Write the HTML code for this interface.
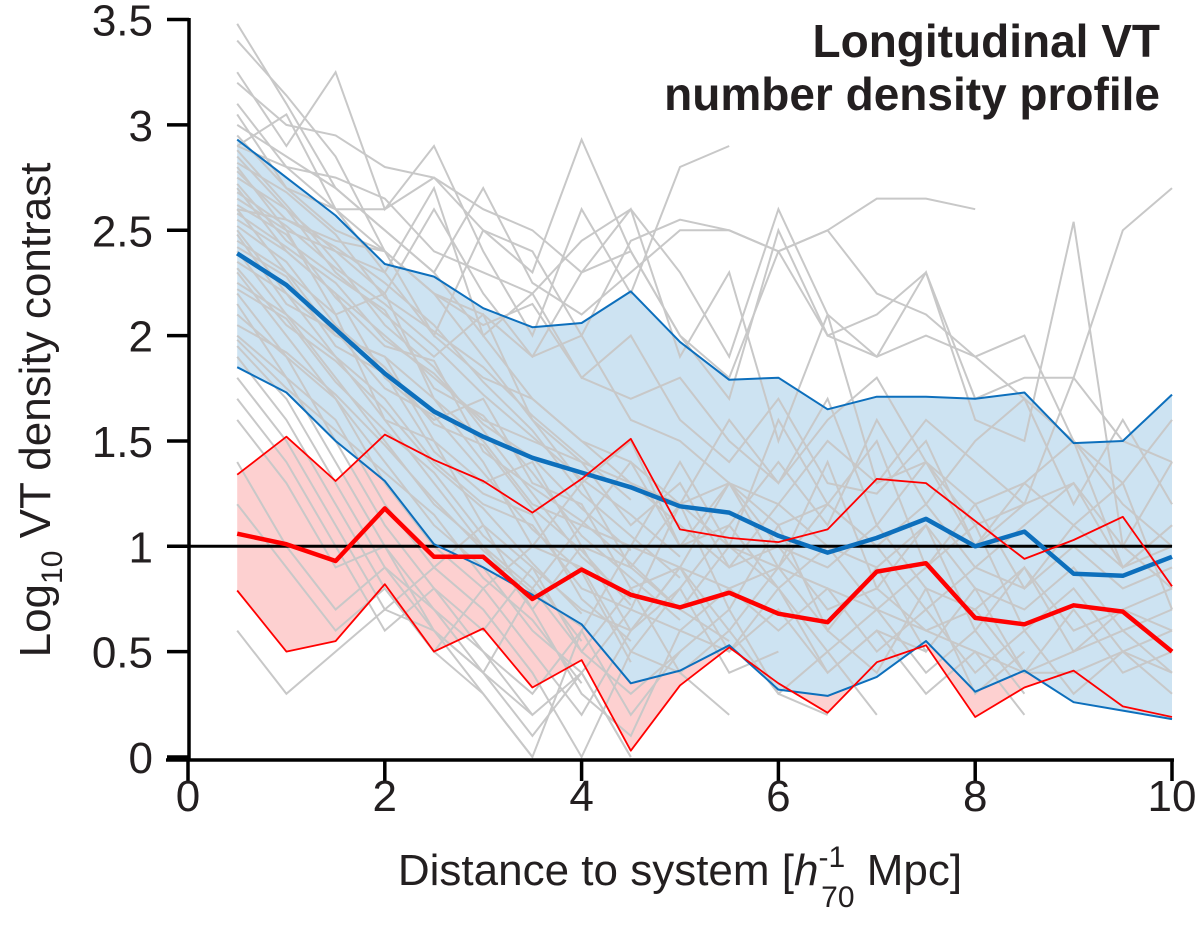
<!DOCTYPE html>
<html><head><meta charset="utf-8"><style>
body{margin:0;background:#fff;}
svg text{font-family:"Liberation Sans",Arial,sans-serif;}
</style></head><body>
<svg id="chart" width="1200" height="924" viewBox="0 0 1200 924" xmlns="http://www.w3.org/2000/svg">
<g id="fills"></g><g id="grays"></g><g id="lines"></g><g id="axes"></g>
<text x="1160" y="57" text-anchor="end" font-size="46" font-weight="bold" fill="#231f20">Longitudinal VT</text>
<text x="1160" y="110" text-anchor="end" font-size="46" font-weight="bold" fill="#231f20">number density profile</text>
<text x="680" y="885" text-anchor="middle" font-size="44" fill="#231f20">Distance to system [<tspan font-style="italic">h</tspan><tspan font-size="30" dy="-18">-1</tspan><tspan font-size="30" dx="-24" dy="40">70</tspan><tspan dy="-22"> Mpc]</tspan></text>
<text transform="translate(50,410) rotate(-90)" text-anchor="middle" font-size="44" fill="#231f20">Log<tspan font-size="30" dy="12">10</tspan><tspan dy="-12"> VT density contrast</tspan></text>
</svg>
<script>
const xs=[0.5,1,1.5,2,2.5,3,3.5,4,4.5,5,5.5,6,6.5,7,7.5,8,8.5,9,9.5,10];
const blueMean=[2.39,2.24,2.03,1.82,1.64,1.52,1.42,1.35,1.28,1.19,1.16,1.05,0.97,1.04,1.13,1.00,1.07,0.87,0.86,0.95];
const blueUpper=[2.93,2.75,2.57,2.34,2.28,2.13,2.04,2.06,2.21,1.97,1.79,1.80,1.65,1.71,1.71,1.70,1.73,1.49,1.50,1.72];
const blueLower=[1.85,1.73,1.50,1.31,1.01,0.90,0.77,0.63,0.35,0.41,0.53,0.32,0.29,0.38,0.55,0.31,0.41,0.26,0.22,0.18];
const redMean=[1.06,1.01,0.93,1.18,0.95,0.95,0.75,0.89,0.77,0.71,0.78,0.68,0.64,0.88,0.92,0.66,0.63,0.72,0.69,0.50];
const redUpper=[1.34,1.52,1.31,1.53,1.41,1.31,1.16,1.32,1.51,1.08,1.04,1.02,1.08,1.32,1.30,1.12,0.94,1.03,1.14,0.81];
const redLower=[0.79,0.50,0.55,0.82,0.50,0.61,0.33,0.46,0.03,0.34,0.52,0.35,0.21,0.45,0.53,0.19,0.33,0.41,0.24,0.19];
const grayLines=[
[3.48,3.10,2.70,2.50,2.30,2.00,1.70,1.50,1.30,1.20,1.00,0.90,0.80,0.70,0.60,0.50,0.40,0.40,0.50,0.40],
[3.40,3.14,2.85,2.40,2.20,1.90,1.60,1.40,1.30,1.10,0.90,1.20,1.00,0.90,1.10,0.80,0.70,0.90,0.60,0.70],
[3.25,2.90,3.25,2.60,2.90,2.40,2.00,2.60,2.20,2.80,2.90,null,null,null,null,null,null,null,null,null],
[3.20,3.00,2.95,2.80,2.75,2.50,2.40,2.00,2.45,2.55,2.50,2.40,2.50,2.65,2.65,2.60,null,null,null,null],
[3.05,2.70,2.60,2.60,2.75,2.60,2.50,2.30,2.40,2.00,1.70,2.50,2.00,2.10,2.30,1.70,1.80,1.80,2.50,2.70],
[3.00,2.85,2.70,2.50,2.30,2.70,2.25,2.10,2.30,2.50,2.50,2.40,2.00,1.90,2.30,1.60,1.50,2.54,1.00,1.40],
[2.95,2.70,2.50,2.40,2.20,2.10,1.90,2.30,2.60,1.90,2.30,1.50,2.10,1.90,2.00,1.90,1.70,1.50,1.20,1.00],
[2.90,2.80,2.60,2.30,2.70,2.00,2.20,1.80,1.70,1.80,1.50,1.30,1.60,1.80,1.40,1.20,1.30,1.10,0.90,1.00],
[2.85,2.60,2.40,2.20,2.60,2.20,1.90,2.00,1.60,1.50,1.30,1.10,1.20,1.00,1.20,0.90,0.80,1.00,0.80,0.90],
[2.80,2.50,2.40,2.30,2.00,1.80,1.70,1.50,1.40,1.20,1.30,1.00,0.90,1.10,0.80,0.70,0.90,0.60,0.70,0.80],
[2.75,2.60,2.30,2.10,1.90,2.10,1.60,1.30,1.50,1.00,1.10,0.80,1.00,0.70,0.90,1.10,0.60,0.80,0.50,0.60],
[2.70,2.40,2.20,2.00,1.80,1.60,1.50,1.40,1.10,1.30,0.90,1.00,0.70,0.80,0.60,0.70,0.40,0.50,0.60,0.40],
[2.65,2.50,2.10,2.20,1.70,1.50,1.20,1.10,1.00,0.90,0.80,0.60,0.80,0.50,0.70,0.40,0.60,0.30,0.50,0.30],
[2.60,2.30,2.00,1.90,1.50,1.30,1.40,1.00,0.90,0.70,1.00,0.80,0.50,0.70,0.40,0.60,0.30,null,null,null],
[2.55,2.40,2.20,1.80,1.60,1.70,1.30,1.20,0.80,0.90,0.60,0.90,0.60,0.40,0.80,0.30,0.50,null,null,null],
[2.50,2.20,1.90,1.70,1.40,1.20,1.10,0.80,0.70,0.60,0.50,0.70,0.40,0.60,0.50,null,null,null,null,null],
[2.45,2.30,2.10,1.60,1.50,1.10,0.90,0.70,0.60,0.80,0.40,0.50,null,null,null,null,null,null,null,null],
[2.40,2.10,1.80,1.50,1.20,1.00,0.80,0.50,0.30,0.50,0.70,0.30,0.20,null,null,null,null,null,null,null],
[2.35,2.20,2.00,1.90,1.70,1.40,1.00,0.90,0.50,0.40,0.20,null,null,null,null,null,null,null,null,null],
[2.30,2.00,1.70,1.40,1.10,0.90,0.60,0.40,0.00,null,null,null,null,null,null,null,null,null,null,null],
[2.25,2.10,1.90,1.60,1.30,1.00,0.70,0.30,0.10,0.60,0.80,0.90,1.20,1.00,0.70,0.90,1.10,1.30,1.00,0.80],
[2.20,1.90,1.70,1.30,1.00,0.80,0.50,0.20,0.60,0.90,1.30,1.20,1.50,1.30,1.60,1.40,1.20,1.80,1.50,1.40],
[2.15,1.80,1.60,1.20,0.90,0.70,0.40,0.00,0.50,0.80,1.10,1.40,1.10,1.60,1.20,1.50,1.70,1.20,1.60,1.20],
[2.10,1.90,1.50,1.10,0.80,0.50,0.20,0.40,0.70,1.20,1.60,1.30,1.70,1.10,1.40,1.00,1.30,1.50,0.90,1.10],
[2.00,1.80,1.40,1.00,0.60,0.30,0.00,0.60,1.00,1.40,1.00,1.60,1.20,1.50,0.90,1.20,0.80,1.10,1.30,0.70],
[1.95,1.70,1.30,0.90,0.70,0.40,0.80,1.10,1.40,1.00,1.30,0.90,1.40,0.80,1.10,0.60,0.90,0.50,0.70,0.60],
[1.90,1.60,1.20,0.80,0.50,0.80,1.00,1.30,0.90,1.20,0.70,1.10,0.60,0.90,0.50,0.80,0.40,0.70,0.40,0.50],
[1.80,1.50,1.10,0.70,0.90,1.10,0.70,1.00,0.60,0.90,0.50,0.80,0.40,0.60,0.30,0.50,0.20,null,null,null],
[1.70,1.40,1.00,0.60,0.80,0.60,0.90,0.50,0.80,0.40,0.60,0.30,0.50,0.20,null,null,null,null,null,null],
[1.60,1.30,0.90,1.00,0.70,0.50,0.30,0.60,0.20,0.50,null,null,null,null,null,null,null,null,null,null],
[1.40,1.00,0.70,0.90,0.60,0.40,0.10,0.40,0.00,null,null,null,null,null,null,null,null,null,null,null],
[1.20,0.90,0.60,0.80,0.50,0.30,0.00,null,null,null,null,null,null,null,null,null,null,null,null,null],
[0.60,0.30,0.50,0.70,0.60,0.40,0.20,null,null,null,null,null,null,null,null,null,null,null,null,null],
[2.90,3.05,2.60,2.40,2.00,2.50,2.30,2.93,2.40,2.00,1.80,2.40,2.50,2.20,2.10,1.90,2.00,1.50,1.30,1.60],
[3.10,2.80,2.75,2.65,2.40,2.30,2.20,2.45,2.60,2.30,1.90,2.60,2.10,1.30,1.40,1.10,1.20,null,null,null],
[2.60,2.55,2.45,2.40,2.20,2.05,2.15,1.80,2.00,1.60,1.40,1.70,1.30,1.25,1.50,1.00,1.20,1.30,0.90,1.10],
[2.88,2.62,2.35,2.05,1.85,1.55,1.25,0.95,0.75,null,null,null,null,null,null,null,null,null,null,null],
[2.72,2.45,2.28,2.12,1.75,1.62,1.35,1.05,0.85,0.65,null,null,null,null,null,null,null,null,null,null],
[2.62,2.48,2.18,1.95,1.88,1.45,1.28,1.12,0.92,0.70,0.55,null,null,null,null,null,null,null,null,null],
[2.52,2.35,2.05,1.85,1.58,1.48,1.18,0.98,0.72,null,null,null,null,null,null,null,null,null,null,null],
[2.48,2.15,2.02,1.75,1.62,1.35,1.08,0.88,0.45,null,null,null,null,null,null,null,null,null,null,null],
[2.42,2.28,1.95,1.82,1.45,1.25,1.15,0.75,0.55,null,null,null,null,null,null,null,null,null,null,null],
[2.32,2.05,1.88,1.65,1.38,1.18,0.92,0.68,null,null,null,null,null,null,null,null,null,null,null,null],
[2.22,2.08,1.78,1.55,1.35,1.05,0.85,0.55,null,null,null,null,null,null,null,null,null,null,null,null],
[2.78,2.55,2.42,2.25,2.05,1.78,1.55,1.25,1.05,0.85,null,null,null,null,null,null,null,null,null,null],
[2.68,2.52,2.32,2.15,1.95,1.72,1.52,1.32,1.15,0.95,null,null,null,null,null,null,null,null,null,null],
[2.58,2.42,2.25,1.98,1.82,1.58,1.42,1.18,0.98,null,null,null,null,null,null,null,null,null,null,null],
[2.82,2.68,2.48,2.18,2.02,1.85,1.62,1.42,1.22,null,null,null,null,null,null,null,null,null,null,null],
[2.05,1.92,1.72,1.48,1.22,0.98,0.78,0.62,null,null,null,null,null,null,null,null,null,null,null,null],
[1.98,1.75,1.55,1.35,1.15,0.85,0.65,0.35,null,null,null,null,null,null,null,null,null,null,null,null]
];
const yTicks=[0,0.5,1,1.5,2,2.5,3,3.5];
const yTickLabels=["0","0.5","1","1.5","2","2.5","3","3.5"];
const xTicks=[0,2,4,6,8,10];
const xTickLabels=["0","2","4","6","8","10"];

const NS="http://www.w3.org/2000/svg";
const X=v=>188+98.4*v;
const Y=v=>757-210.7*v;
function mk(tag,parent,attrs){const e=document.createElementNS(NS,tag);for(const k in attrs)e.setAttribute(k,attrs[k]);parent.appendChild(e);return e;}
function pathOf(arr){let d="",pen=false;arr.forEach((v,i)=>{if(v===null){pen=false;return;}d+=(pen?"L":"M")+X(xs[i]).toFixed(1)+","+Y(v).toFixed(1);pen=true;});return d;}
function band(up,lo){let d="M"+xs.map((x,i)=>X(x).toFixed(1)+","+Y(up[i]).toFixed(1)).join("L");for(let i=xs.length-1;i>=0;i--)d+="L"+X(xs[i]).toFixed(1)+","+Y(lo[i]).toFixed(1);return d+"Z";}
const fills=document.getElementById("fills"),grays=document.getElementById("grays"),lines=document.getElementById("lines"),axes=document.getElementById("axes");
let e=mk("path",fills,{d:band(redUpper,redLower),fill:"#fdd0d0"});


e=mk("path",fills,{d:band(blueUpper,blueLower),fill:"#cde3f2"});


grayLines.forEach(g=>{const p=mk("path",grays,{d:pathOf(g),fill:"none",stroke:"#c8c8c8","stroke-width":2});

});
e=mk("line",lines,{x1:188,x2:1172,y1:Y(1),y2:Y(1),stroke:"#000","stroke-width":3});


[[blueUpper,"#0d6fbc",2,"blue-upper"],[blueLower,"#0d6fbc",2,"blue-lower"],[blueMean,"#0d6fbc",4.5,"blue-mean"],[redUpper,"#ff0000",1.8,"red-upper"],[redLower,"#ff0000",1.8,"red-lower"],[redMean,"#ff0000",4.5,"red-mean"]].forEach(s=>{
const p=mk("path",lines,{d:pathOf(s[0]),fill:"none",stroke:s[1],"stroke-width":s[2],"stroke-linejoin":"round"});

});
e=mk("line",axes,{x1:189,x2:189,y1:18,y2:761,stroke:"#000","stroke-width":3.5});


e=mk("line",axes,{x1:166,x2:1174,y1:760,y2:760,stroke:"#000","stroke-width":3.5});


yTicks.forEach((v,i)=>{mk("line",axes,{x1:167,x2:189,y1:Y(v),y2:Y(v),stroke:"#000","stroke-width":3.5});
const t=mk("text",axes,{x:153,y:Y(v)+16,"text-anchor":"end","font-size":44,fill:"#231f20"});t.textContent=yTickLabels[i];

});
xTicks.forEach((v,i)=>{mk("line",axes,{x1:X(v),x2:X(v),y1:760,y2:781,stroke:"#000","stroke-width":3.5});
const t=mk("text",axes,{x:X(v),y:811,"text-anchor":"middle","font-size":44,fill:"#231f20"});t.textContent=xTickLabels[i];

});
</script>
</body></html>
